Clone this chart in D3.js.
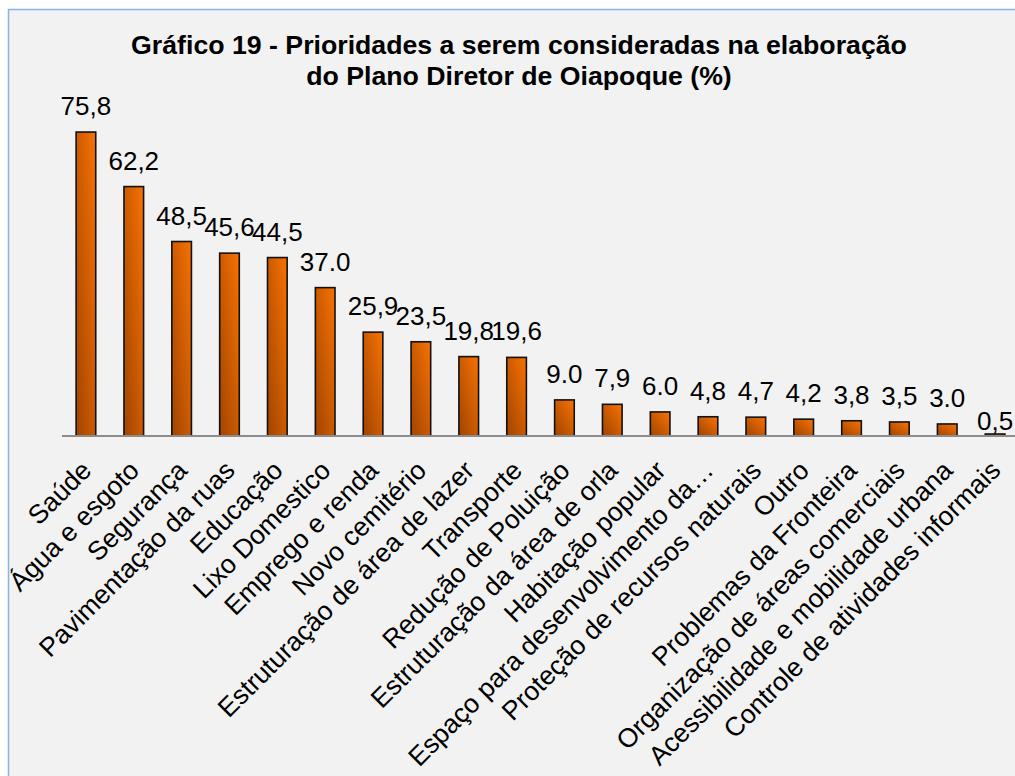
<!DOCTYPE html>
<html><head><meta charset="utf-8">
<script src="https://cdn.jsdelivr.net/npm/d3@7"></script>
<style>html,body{margin:0;padding:0;background:#fff;}svg{display:block;}</style>
</head><body>
<script>
const categories = ["Saúde","Água e esgoto","Segurança","Pavimentação da ruas","Educação","Lixo Domestico","Emprego e renda","Novo cemitério","Estruturação de área de lazer","Transporte","Redução de Poluição","Estruturação da área de orla","Habitação popular","Espaço para desenvolvimento da…","Proteção de recursos naturais","Outro","Problemas da Fronteira","Organização de áreas comerciais","Acessibilidade e mobilidade urbana","Controle de atividades informais"];
const values = [75.8,62.2,48.5,45.6,44.5,37.0,25.9,23.5,19.8,19.6,9.0,7.9,6.0,4.8,4.7,4.2,3.8,3.5,3.0,0.5];
const valueLabels = ["75,8","62,2","48,5","45,6","44,5","37.0","25,9","23,5","19,8","19,6","9.0","7,9","6.0","4,8","4,7","4,2","3,8","3,5","3.0","0,5"];
const titleLines = ["Gráfico 19 - Prioridades a serem consideradas na elaboração","do Plano Diretor de Oiapoque (%)"];

const W = 1015, H = 776;
const svg = d3.select("body").append("svg").attr("width", W).attr("height", H);
const FONT = "Liberation Sans, Arial, sans-serif";

const defs = svg.append("defs");
const grad = defs.append("linearGradient").attr("id","barGrad")
  .attr("x1",0).attr("y1",1).attr("x2",1).attr("y2",0);
grad.append("stop").attr("offset","0%").attr("stop-color","#a04400");
grad.append("stop").attr("offset","100%").attr("stop-color","#f87200");

svg.append("rect").attr("x",8.5).attr("y",9.5).attr("width",W).attr("height",H)
  .attr("fill","#f2f2f2").attr("stroke","#8db3e2").attr("stroke-width",1.5);

svg.append("g").selectAll("text").data(titleLines).join("text")
  .attr("x",519).attr("y",(d,i)=>54+i*31)
  .attr("text-anchor","middle").attr("font-family",FONT)
  .attr("font-weight","bold").attr("font-size","26.7px").attr("fill","#000")
  .text(d=>d);

const axisY = 436;
const x = d3.scaleBand().domain(categories).range([62, 62+20*47.85]).paddingInner(0.59).paddingOuter(0.295);
const y = d3.scaleLinear().domain([0,80]).range([axisY, axisY-320.8]);

svg.append("g").selectAll("rect").data(values).join("rect")
  .attr("x",(d,i)=>x(categories[i]))
  .attr("y",d=>y(d))
  .attr("width",x.bandwidth())
  .attr("height",d=>axisY-y(d))
  .attr("fill","url(#barGrad)")
  .attr("stroke","#111").attr("stroke-width",1.6);

const xAxis = svg.append("g").attr("transform",`translate(0,${axisY})`)
  .call(d3.axisBottom(x).tickSize(0).tickFormat(""));
xAxis.select(".domain").attr("stroke","#8c8c8c").attr("stroke-width",2)
  .attr("d",`M62,0H${W+10}`);

svg.append("g").selectAll("text").data(categories).join("text")
  .attr("transform",d=>`translate(${x(d)+x.bandwidth()/2+7},${axisY+36}) rotate(-45)`)
  .attr("text-anchor","end").attr("font-family",FONT).attr("font-size","26.5px").attr("fill","#000")
  .text(d=>d);

svg.append("g").selectAll("text").data(values).join("text")
  .attr("x",(d,i)=>x(categories[i])+x.bandwidth()/2)
  .attr("y",d=> d<1 ? y(d)-4 : y(d)-17)
  .attr("text-anchor","middle").attr("font-family",FONT).attr("font-size","26px").attr("fill","#000")
  .text((d,i)=>valueLabels[i]);
</script>
</body></html>
